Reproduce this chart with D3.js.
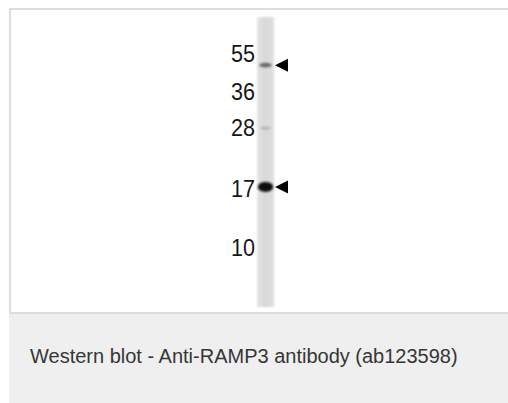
<!DOCTYPE html>
<html><head><meta charset="utf-8">
<script src="https://cdn.jsdelivr.net/npm/d3@7"></script>
<style>html,body{margin:0;padding:0;background:#fff;}svg{display:block;}</style>
</head><body>
<script>
const markerLabels = ["55", "36", "28", "17", "10"];
const markerPos = [0.128, 0.259, 0.383, 0.593, 0.797];
const bandPos = [0.166, 0.383, 0.586];
const bandIntensity = [0.5, 0.16, 0.97];
const arrowPos = [0.166, 0.586];
const caption = "Western blot - Anti-RAMP3 antibody (ab123598)";

const W = 508, H = 403;
const svg = d3.select("body").append("svg").attr("width", W).attr("height", H);
const defs = svg.append("defs");
defs.append("filter").attr("id", "blur").attr("x", "-50%").attr("y", "-100%").attr("width", "200%").attr("height", "300%")
  .append("feGaussianBlur").attr("stdDeviation", 1.2);
defs.append("filter").attr("id", "blur2").attr("x", "-50%").attr("y", "-10%").attr("width", "200%").attr("height", "120%")
  .append("feGaussianBlur").attr("stdDeviation", 0.8);
const lg = defs.append("linearGradient").attr("id", "lane").attr("x1", "0").attr("x2", "1");
lg.append("stop").attr("offset", "0").attr("stop-color", "#e4e4e4");
lg.append("stop").attr("offset", "0.5").attr("stop-color", "#d8d8d8");
lg.append("stop").attr("offset", "1").attr("stop-color", "#e0e0e0");

// caption panel
svg.append("rect").attr("x", 9).attr("y", 314).attr("width", W - 9).attr("height", H - 314).attr("fill", "#eeefee");
// image panel border
svg.append("rect").attr("x", 10).attr("y", 9).attr("width", W).attr("height", 304)
  .attr("fill", "#fff").attr("stroke", "#dddddd").attr("stroke-width", 2);

const laneTop = 17, laneBottom = 307, laneX0 = 257, laneX1 = 274;
const y = d3.scaleLinear().domain([0, 1]).range([laneTop, laneBottom]);
const xc = (laneX0 + laneX1) / 2;

svg.append("rect").attr("x", laneX0).attr("y", laneTop).attr("width", laneX1 - laneX0).attr("height", laneBottom - laneTop)
  .attr("fill", "url(#lane)").attr("filter", "url(#blur2)");

const shade = d3.scaleLinear().domain([0, 1]).range(["#d0d0d0", "#050505"]);
svg.selectAll(".band").data(bandPos).join("ellipse")
  .attr("cx", xc).attr("cy", d => y(d))
  .attr("rx", (d, i) => 4.5 + 3.3 * bandIntensity[i])
  .attr("ry", (d, i) => 1.3 + 4 * bandIntensity[i] * bandIntensity[i])
  .attr("fill", (d, i) => shade(bandIntensity[i]))
  .attr("filter", "url(#blur)");

svg.selectAll(".lbl").data(markerLabels).join("text")
  .attr("x", 255).attr("y", (d, i) => y(markerPos[i]))
  .attr("dy", "0.36em").attr("text-anchor", "end")
  .attr("font-family", "Liberation Sans, Arial, sans-serif").attr("font-size", 23)
  .attr("textLength", 24).attr("lengthAdjust", "spacingAndGlyphs")
  .attr("fill", "#161616").text(d => d);

svg.selectAll(".arrow").data(arrowPos).join("path")
  .attr("d", d => { const cy = y(d); return `M275,${cy} L288,${cy - 6.5} L288,${cy + 6.5} Z`; })
  .attr("fill", "#000");

svg.append("text").attr("x", 30).attr("y", 363)
  .attr("font-family", "Liberation Sans, Arial, sans-serif").attr("font-size", 20)
  .attr("fill", "#363636").text(caption);
</script>
</body></html>
